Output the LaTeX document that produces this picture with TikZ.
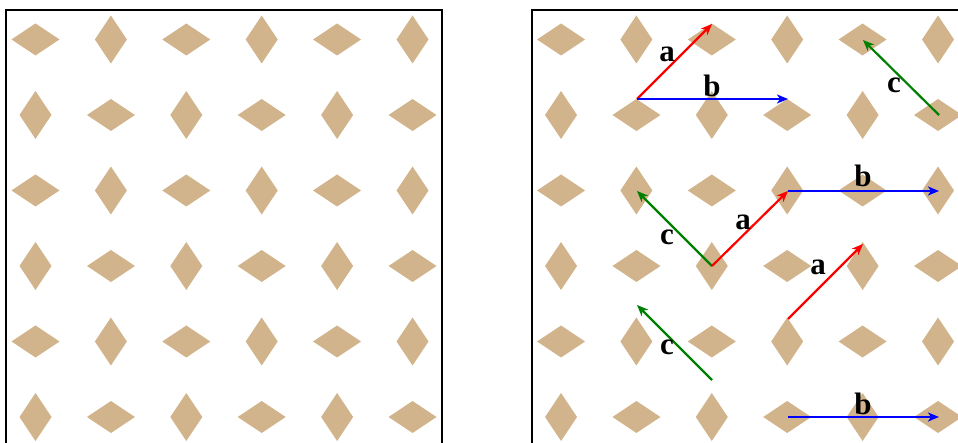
\documentclass[tikz,border=0pt]{standalone}
\usepackage{fontspec}
\newfontfamily\labfont{Liberation Serif}
\usetikzlibrary{arrows.meta}
\definecolor{tanc}{RGB}{210,180,140}
\definecolor{dgreen}{RGB}{0,128,0}
\begin{document}
\begin{tikzpicture}[x=1pt,y=-1pt,
  tile/.style={fill=tanc,draw=none},
  frame/.style={line width=2pt,draw=black},
  vec/.style={line width=2.2pt,-{Stealth[length=11pt,width=9pt,inset=3pt]}},
  lab/.style={font=\labfont\fontsize{31}{33}\selectfont\bfseries,inner sep=0pt,text=black}]
\useasboundingbox (0,0) rectangle (958,443);
\clip (0,0) rectangle (958,443);
\foreach \ox in {0,525.5} {
  \draw[frame] (\ox+6,10) rectangle (\ox+442,446.5);
  \foreach \i in {0,...,5} {
    \foreach \j in {0,...,5} {
      \pgfmathsetmacro\cx{\ox+35.5+75.4*\i}
      \pgfmathsetmacro\cy{39.5+75.5*\j}
      \pgfmathtruncatemacro\pty{mod(\i+\j,2)}
      \ifnum\pty=0
        \fill[tile] (\cx-24,\cy) -- (\cx,\cy-16) -- (\cx+24,\cy) -- (\cx,\cy+16) -- cycle;
      \else
        \fill[tile] (\cx-16,\cy) -- (\cx,\cy-24) -- (\cx+16,\cy) -- (\cx,\cy+24) -- cycle;
      \fi
    }
  }
}
% named points of the vectors
\coordinate (a1s) at (637,99);
\coordinate (a1e) at (712,24);
\coordinate (b1e) at (788,99);
\coordinate (c1s) at (939,115);
\coordinate (c1e) at (863,40);
\coordinate (o2) at (712,266);
\coordinate (c2e) at (637,191);
\coordinate (a2e) at (788,191);
\coordinate (b2e) at (939,191);
\coordinate (a3s) at (788,319);
\coordinate (a3e) at (863,244);
\coordinate (c3s) at (712,380);
\coordinate (c3e) at (637,305);
\coordinate (b3s) at (788,417);
\coordinate (b3e) at (939,417);
% vectors
\draw[vec,red] (a1s) -- (a1e);
\draw[vec,blue] (a1s) -- (b1e);
\draw[vec,dgreen] (c1s) -- (c1e);
\draw[vec,dgreen] (o2) -- (c2e);
\draw[vec,red] (o2) -- (a2e);
\draw[vec,blue] (a2e) -- (b2e);
\draw[vec,red] (a3s) -- (a3e);
\draw[vec,dgreen] (c3s) -- (c3e);
\draw[vec,blue] (b3s) -- (b3e);
% labels
\node[lab] (la1) at (667,54) {a};
\node[lab] (lb1) at (712,86) {b};
\node[lab] (lc1) at (894,85) {c};
\node[lab] (lc2) at (667,237) {c};
\node[lab] (la2) at (743,222) {a};
\node[lab] (lb2) at (863,176) {b};
\node[lab] (la3) at (818,267) {a};
\node[lab] (lc3) at (667,347) {c};
\node[lab] (lb3) at (863,404) {b};
\end{tikzpicture}
\end{document}
